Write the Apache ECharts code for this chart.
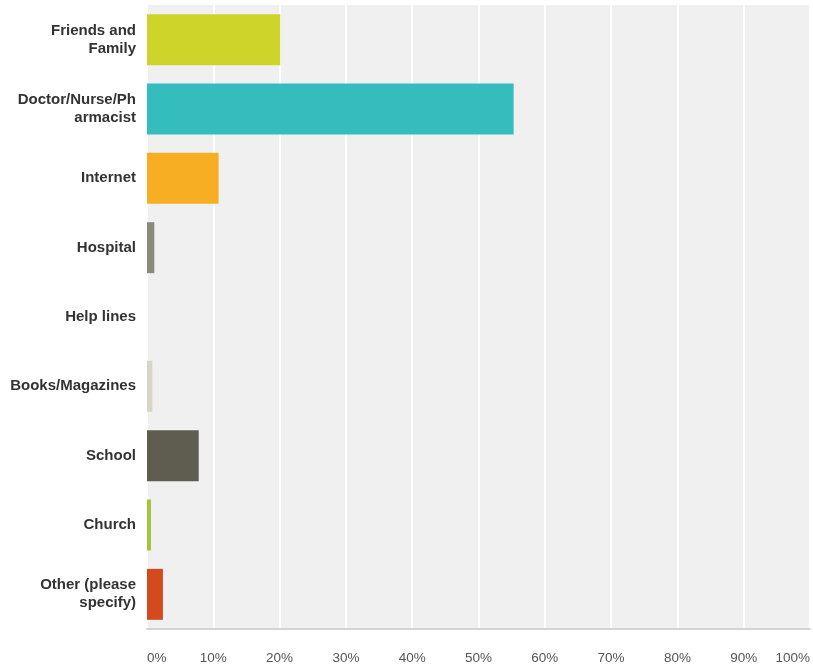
<!DOCTYPE html>
<html>
<head>
<meta charset="utf-8">
<script src="https://cdn.jsdelivr.net/npm/echarts@6/dist/echarts.min.js"></script>
<style>
html,body{margin:0;padding:0;background:#fff;}
#chart{width:813px;height:666px;}
</style>
</head>
<body>
<div id="chart"></div>
<script>
const categories = ["Friends and\nFamily", "Doctor/Nurse/Ph\narmacist", "Internet", "Hospital", "Help lines", "Books/Magazines", "School", "Church", "Other (please\nspecify)"];
const values = [20.1, 55.3, 10.8, 1.1, 0, 0.8, 7.8, 0.6, 2.4];
const xTicks = [0, 10, 20, 30, 40, 50, 60, 70, 80, 90, 100];
const barColors = ["#cfd42b", "#35bdbd", "#f7ae22", "#8b8b7d", "#6fb0c8", "#d9d4c8", "#5e5d50", "#a5c43c", "#d24a1d"];

const chart = echarts.init(document.getElementById('chart'), null, {renderer: 'canvas'});
chart.setOption({
  animation: false,
  backgroundColor: '#ffffff',
  grid: {
    left: 147, right: 0, top: 5, bottom: 37,
    show: true, backgroundColor: '#f0f0f0', borderWidth: 0
  },
  xAxis: {
    type: 'value',
    min: xTicks[0],
    max: xTicks[xTicks.length - 1],
    interval: xTicks[1] - xTicks[0],
    axisLine: {show: true, lineStyle: {color: '#d4d4d4', width: 2}},
    axisTick: {show: false},
    splitLine: {show: true, lineStyle: {color: '#ffffff', width: 2}},
    axisLabel: {
      formatter: '{value}%',
      color: '#555555',
      fontFamily: 'Liberation Sans, Arial, sans-serif',
      fontSize: 13.5,
      margin: 22,
      alignMinLabel: 'left',
      alignMaxLabel: 'right'
    }
  },
  yAxis: {
    type: 'category',
    inverse: true,
    data: categories,
    axisLine: {show: false},
    axisTick: {show: false},
    splitLine: {show: false},
    axisLabel: {
      color: '#333333',
      fontFamily: 'Liberation Sans, Arial, sans-serif',
      fontWeight: 'bold',
      fontSize: 15,
      lineHeight: 18,
      margin: 11,
      align: 'right'
    }
  },
  series: [{
    type: 'bar',
    data: values.map((v, i) => ({value: v, itemStyle: {color: barColors[i]}})),
    barWidth: 51,
    silent: true
  }]
});
</script>
</body>
</html>
